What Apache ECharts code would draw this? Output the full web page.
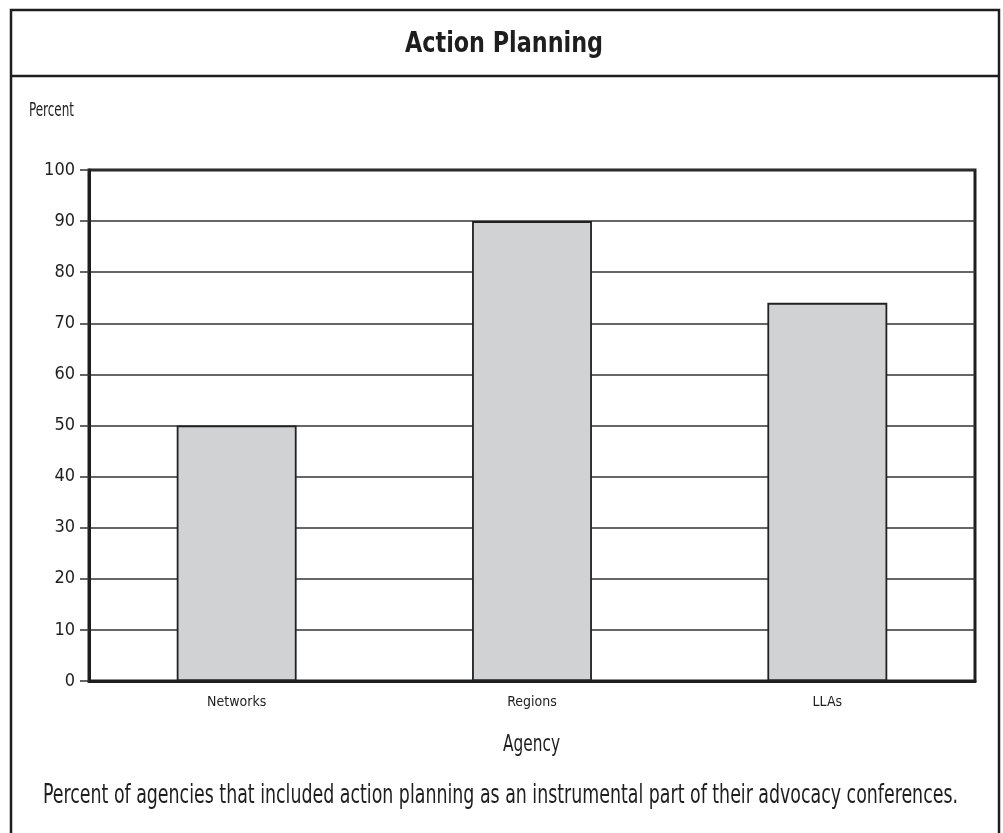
<!DOCTYPE html>
<html>
<head>
<meta charset="utf-8">
<style>
  html, body { margin: 0; padding: 0; background: #fff; }
  #chart { width: 1003px; height: 833px; }
</style>
<script src="https://cdn.jsdelivr.net/npm/echarts@6/dist/echarts.min.js"></script>
</head>
<body>
<div id="chart"></div>
<script>
// Agencies and the share of each that used action planning
const categories = ['Networks', 'Regions', 'LLAs'];
const percentValues = [50, 90, 74];
const yTicks = [0, 10, 20, 30, 40, 50, 60, 70, 80, 90, 100];

const titleText = 'Action Planning';
const yAxisTitle = 'Percent';
const xAxisTitle = 'Agency';
const captionText = 'Percent of agencies that included action planning as an instrumental part of their advocacy conferences.';

const FONT = '"DejaVu Sans Condensed", "DejaVu Sans", sans-serif';
const INK = '#1e1e1e';

// Narrow text horizontally so it fills a given width (compressed display face)
const measureCtx = document.createElement('canvas').getContext('2d');
function squeeze(text, size, weight, width) {
  measureCtx.font = weight + ' ' + size + 'px ' + FONT;
  return width / measureCtx.measureText(text).width;
}

function label(text, x, top, size, weight, width, align) {
  return {
    type: 'text', x: x, y: top, silent: true,
    scaleX: squeeze(text, size, weight, width), scaleY: 1,
    style: {
      text: text, x: 0, y: 0, align: align, verticalAlign: 'top',
      font: weight + ' ' + size + 'px ' + FONT, fill: INK
    }
  };
}

const chart = echarts.init(document.getElementById('chart'));
chart.setOption({
  backgroundColor: '#ffffff',
  animation: false,
  graphic: [
    { type: 'rect', shape: { x: 11, y: 10, width: 988, height: 840 },
      style: { fill: 'none', stroke: INK, lineWidth: 2.5 }, silent: true },
    { type: 'line', shape: { x1: 11, y1: 76, x2: 999, y2: 76 },
      style: { stroke: INK, lineWidth: 2.5 }, silent: true },
    label(titleText, 504, 31, 28, 'bold', 198, 'center'),
    label(yAxisTitle, 29, 101, 20, 'normal', 45, 'left'),
    label(xAxisTitle, 531.5, 734, 23, 'normal', 57, 'center'),
    label(captionText, 500.5, 783, 26, 'normal', 915, 'center')
  ],
  grid: {
    left: 89, right: 28, top: 170, bottom: 152,
    show: true, borderColor: INK, borderWidth: 3, backgroundColor: 'transparent'
  },
  xAxis: {
    type: 'category',
    data: categories,
    axisLine: { show: true, lineStyle: { color: INK, width: 3 } },
    axisTick: { show: false },
    axisLabel: { fontFamily: FONT, fontSize: 14, color: INK, margin: 14 }
  },
  yAxis: {
    type: 'value',
    min: yTicks[0],
    max: yTicks[yTicks.length - 1],
    interval: 10,
    axisLine: { show: true, lineStyle: { color: INK, width: 3 } },
    axisTick: { show: true, length: 9, lineStyle: { color: '#333', width: 1.5 } },
    axisLabel: { fontFamily: FONT, fontSize: 18, color: INK, margin: 14 },
    splitLine: { show: true, lineStyle: { color: '#333', width: 1.5 } }
  },
  series: [{
    type: 'bar',
    data: percentValues,
    barWidth: '40.6%',
    itemStyle: { color: '#d1d2d4', borderColor: '#222', borderWidth: 1.8 }
  }]
});
</script>
</body>
</html>
